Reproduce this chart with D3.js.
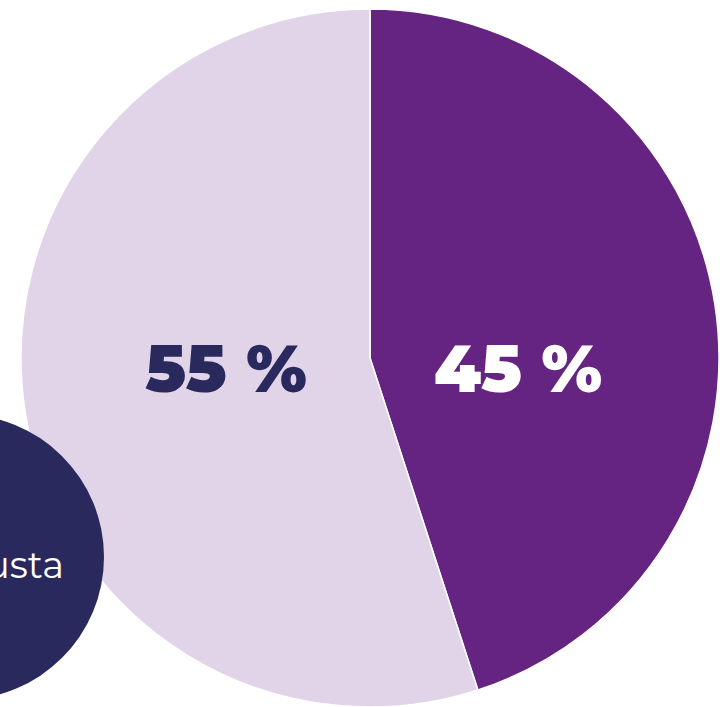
<!DOCTYPE html>
<html><head><meta charset="utf-8">
<script src="https://cdn.jsdelivr.net/npm/d3@7"></script>
<style>html,body{margin:0;padding:0;background:#fff;overflow:hidden}</style>
</head><body>
<svg id="c" width="720" height="707"></svg>
<script>
const categories = ["A", "B"];
const values = [45, 55];
const labels = ["45 %", "55 %"];
const legendLabel = "usta";
const colors = ["#652382", "#e1d4e8"];
const labelColors = ["#ffffff", "#29295e"];

const svg = d3.select("#c");
const cx = 370, cy = 358, R = 349;
const pie = d3.pie().sort(null).value(d => d)(values);
const arc = d3.arc().innerRadius(0).outerRadius(R);
const g = svg.append("g").attr("transform", `translate(${cx},${cy})`);
g.selectAll("path").data(pie).join("path")
  .attr("d", arc)
  .attr("fill", (d, i) => colors[i])
  .attr("stroke", "#fff").attr("stroke-width", 1.5);

// labels placed horizontally on each side of centre
g.selectAll("text.v").data(pie).join("text")
  .attr("class", "v")
  .attr("x", d => { const m = (d.startAngle + d.endAngle) / 2; return Math.sin(m) >= 0 ? 148 : -144; })
  .attr("y", 34)
  .attr("text-anchor", "middle")
  .attr("fill", (d, i) => labelColors[i])
  .style("font-family", "Montserrat, Inter, 'Open Sans', sans-serif")
  .style("font-weight", 900)
  .style("font-size", "66px")
  .text((d, i) => labels[i]);

// legend bubble
svg.append("ellipse").attr("cx", -40).attr("cy", 557).attr("rx", 144).attr("ry", 143).attr("fill", "#29295e");
svg.append("text").attr("x", 64).attr("y", 578).attr("text-anchor", "end")
  .attr("fill", "#fff")
  .style("font-family", "Montserrat, 'Open Sans', sans-serif")
  .style("font-size", "37px")
  .text(legendLabel);
</script>
</body></html>
